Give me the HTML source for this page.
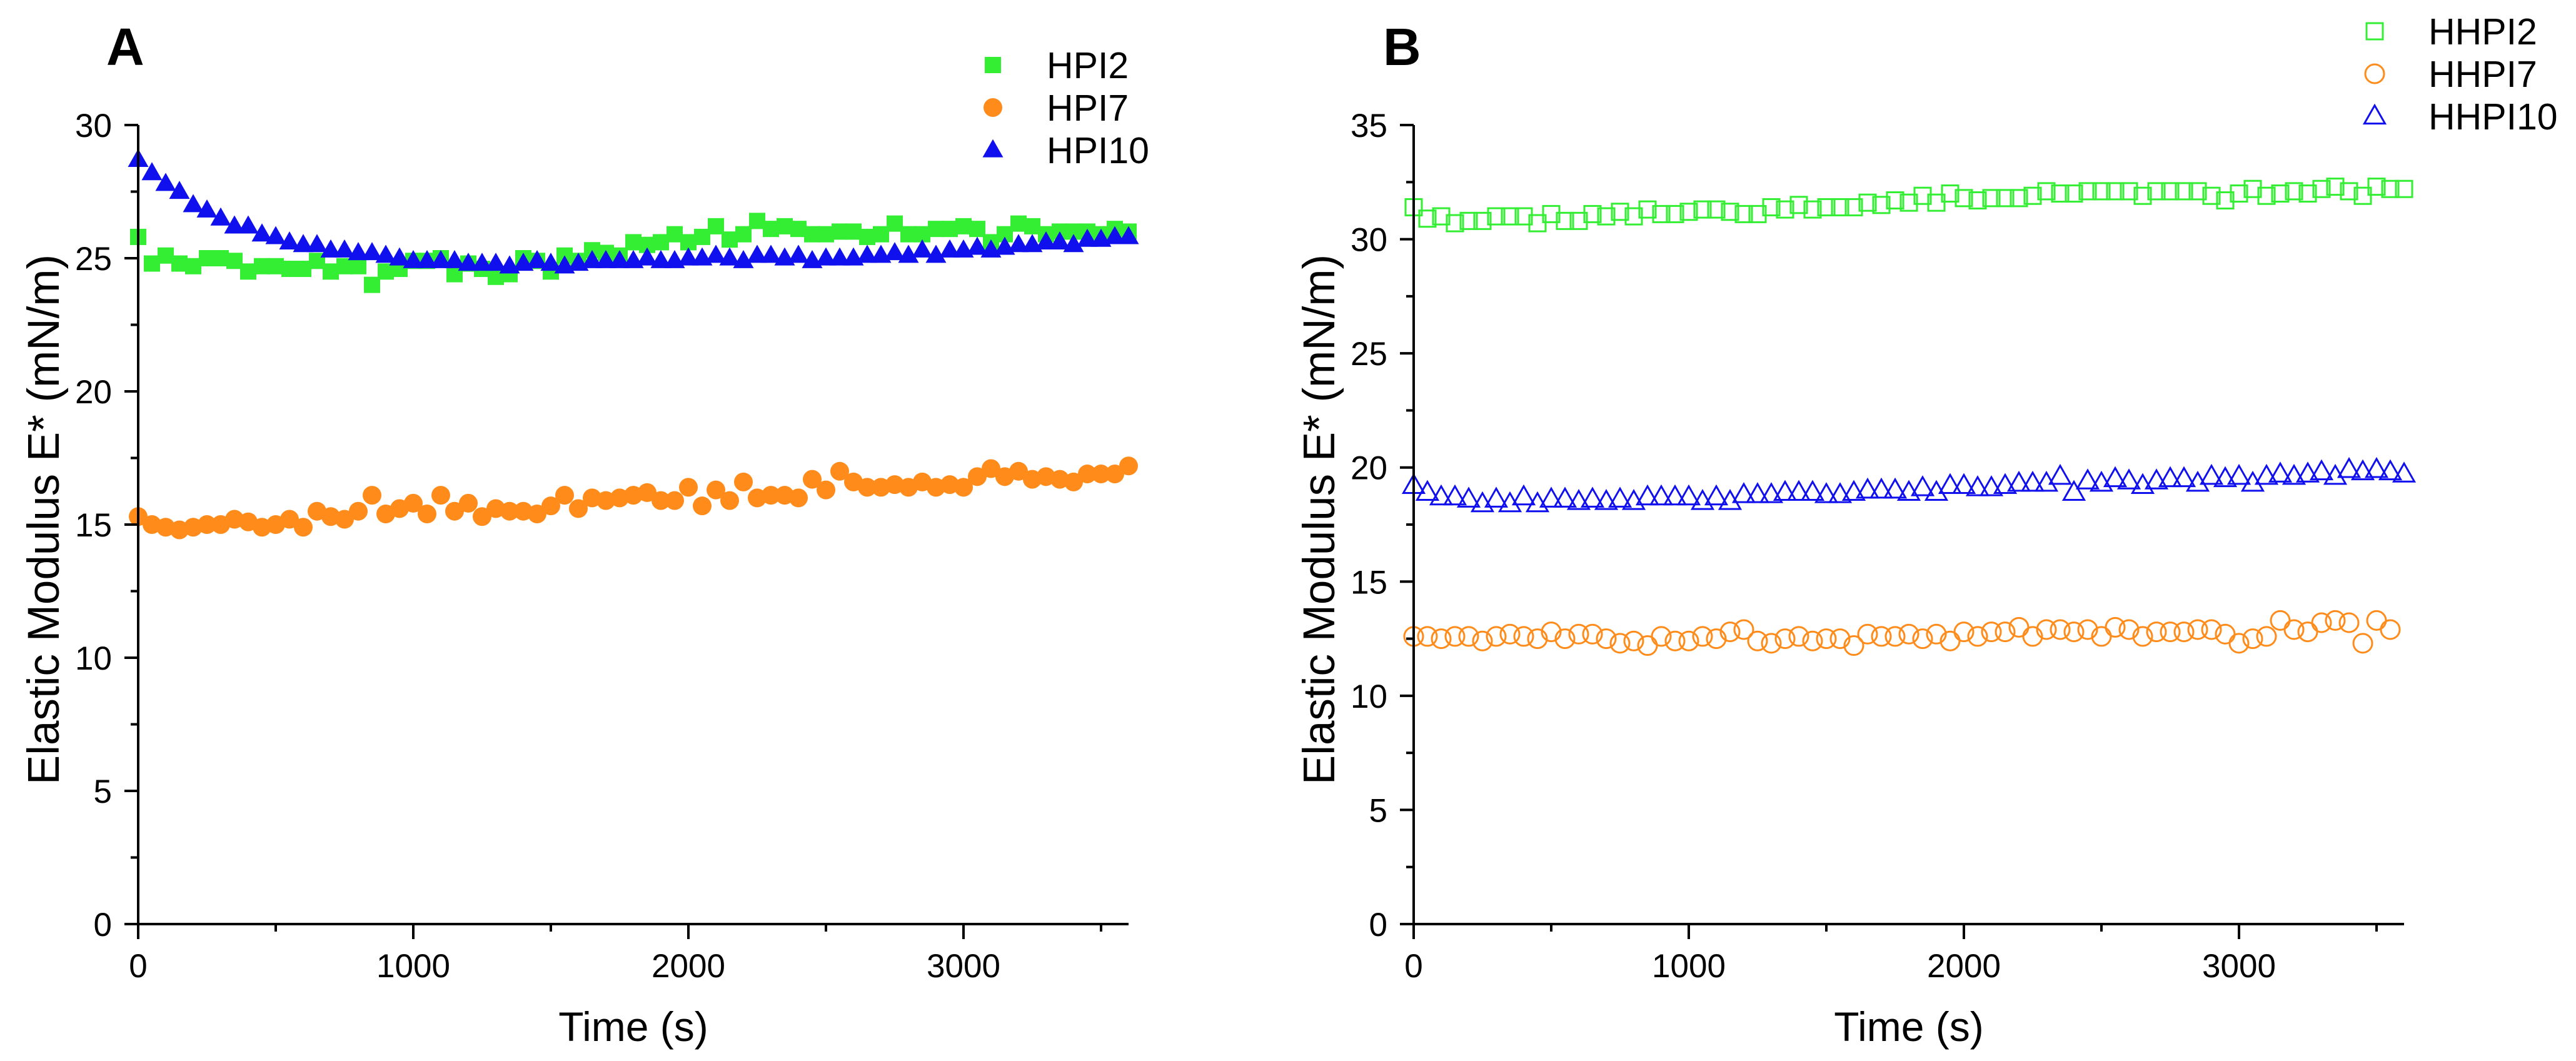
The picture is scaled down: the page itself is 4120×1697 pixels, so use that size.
<!DOCTYPE html>
<html><head><meta charset="utf-8">
<style>
html,body{margin:0;padding:0;background:#fff;}
svg{display:block;font-family:"Liberation Sans",Arial,sans-serif;}
</style></head>
<body>
<svg id="fig" width="4120" height="1697" viewBox="0 0 4120 1697" xmlns="http://www.w3.org/2000/svg"></svg>
<script>
const xTicks = [0, 1000, 2000, 3000];
const yTicksA = [0, 5, 10, 15, 20, 25, 30];
const yTicksB = [0, 5, 10, 15, 20, 25, 30, 35];
const dt = 50;
const hpi2 = [25.8,24.8,25.1,24.8,24.7,25.0,25.0,24.9,24.5,24.7,24.7,24.6,24.6,24.9,24.5,24.7,24.7,24.0,24.5,24.6,24.9,24.9,25.0,24.4,24.8,24.6,24.3,24.4,25.0,24.9,24.5,25.1,24.9,25.3,25.2,25.1,25.6,25.5,25.6,25.9,25.6,25.8,26.2,25.7,25.9,26.4,26.1,26.2,26.1,25.9,25.9,26.0,26.0,25.8,25.9,26.3,25.9,25.9,26.1,26.1,26.2,26.1,25.6,25.9,26.3,26.2,25.9,26.0,26.0,26.0,25.9,26.1,26.0];
const hpi7 = [15.3,15.0,14.9,14.8,14.9,15.0,15.0,15.2,15.1,14.9,15.0,15.2,14.9,15.5,15.3,15.2,15.5,16.1,15.4,15.6,15.8,15.4,16.1,15.5,15.8,15.3,15.6,15.5,15.5,15.4,15.7,16.1,15.6,16.0,15.9,16.0,16.1,16.2,15.9,15.9,16.4,15.7,16.3,15.9,16.6,16.0,16.1,16.1,16.0,16.7,16.3,17.0,16.6,16.4,16.4,16.5,16.4,16.6,16.4,16.5,16.4,16.8,17.1,16.8,17.0,16.7,16.8,16.7,16.6,16.9,16.9,16.9,17.2];
const hpi10 = [28.7,28.2,27.8,27.5,27.0,26.8,26.5,26.2,26.2,25.9,25.8,25.6,25.5,25.5,25.3,25.3,25.2,25.2,25.1,25.0,24.9,24.9,24.9,24.9,24.8,24.8,24.8,24.7,24.8,24.9,24.8,24.7,24.8,24.9,24.9,24.9,24.9,25.0,24.9,24.9,25.0,25.0,25.1,25.0,24.9,25.1,25.1,25.0,25.1,24.9,25.0,25.0,25.0,25.1,25.1,25.2,25.1,25.3,25.1,25.3,25.3,25.4,25.3,25.4,25.5,25.5,25.6,25.6,25.5,25.7,25.7,25.8,25.8];
const hhpi2 = [31.4,30.9,31.0,30.7,30.8,30.8,31.0,31.0,31.0,30.7,31.1,30.8,30.8,31.1,31.0,31.2,31.0,31.3,31.1,31.1,31.2,31.3,31.3,31.2,31.1,31.1,31.4,31.3,31.5,31.3,31.4,31.4,31.4,31.6,31.5,31.7,31.6,31.9,31.6,32.0,31.8,31.7,31.8,31.8,31.8,31.9,32.1,32.0,32.0,32.1,32.1,32.1,32.1,31.9,32.1,32.1,32.1,32.1,31.9,31.7,32.0,32.2,31.9,32.0,32.1,32.0,32.2,32.3,32.1,31.9,32.3,32.2,32.2];
const hhpi7 = [12.6,12.6,12.5,12.6,12.6,12.4,12.6,12.7,12.6,12.5,12.8,12.5,12.7,12.7,12.5,12.3,12.4,12.2,12.6,12.4,12.4,12.6,12.5,12.8,12.9,12.4,12.3,12.5,12.6,12.4,12.5,12.5,12.2,12.7,12.6,12.6,12.7,12.5,12.7,12.4,12.8,12.6,12.8,12.8,13.0,12.6,12.9,12.9,12.8,12.9,12.6,13.0,12.9,12.6,12.8,12.8,12.8,12.9,12.9,12.7,12.3,12.5,12.6,13.3,12.9,12.8,13.2,13.3,13.2,12.3,13.3,12.9];
const hhpi10 = [19.2,18.9,18.7,18.7,18.6,18.4,18.6,18.4,18.7,18.4,18.6,18.6,18.5,18.6,18.5,18.6,18.5,18.7,18.7,18.7,18.7,18.5,18.7,18.5,18.8,18.8,18.8,18.9,18.9,18.9,18.8,18.8,18.9,19.0,19.0,19.0,18.9,19.1,18.9,19.2,19.2,19.1,19.1,19.2,19.3,19.3,19.3,19.6,18.9,19.4,19.3,19.5,19.4,19.2,19.4,19.5,19.5,19.3,19.6,19.5,19.6,19.3,19.6,19.7,19.6,19.7,19.8,19.6,19.9,19.8,19.9,19.8,19.7];

const NS = "http://www.w3.org/2000/svg";
const svg = document.getElementById('fig');
function mk(tag, attrs, parent) {
  const e = document.createElementNS(NS, tag);
  for (const k in attrs) e.setAttribute(k, attrs[k]);
  (parent || svg).appendChild(e);
  return e;
}
const GREEN = '#33ee33', ORANGE = '#ff8c1a', BLUE = '#1010ee';

function marker(g, shape, cx, cy, color, filled) {
  let e;
  const fill = filled ? color : 'none';
  const sw = filled ? 0 : 3;
  if (shape === 'sq') {
    const s = 26;
    e = mk('rect', {x: cx - s/2, y: cy - s/2, width: s, height: s, fill: fill, stroke: color, 'stroke-width': sw}, g);
  } else if (shape === 'ci') {
    e = mk('circle', {cx: cx, cy: cy, r: 15, fill: fill, stroke: color, 'stroke-width': sw}, g);
  } else {
    const h = 29, w = 33;
    e = mk('polygon', {points: `${cx},${cy - h*0.6} ${cx - w/2},${cy + h*0.4} ${cx + w/2},${cy + h*0.4}`, fill: fill, stroke: color, 'stroke-width': sw}, g);
  }
  return e;
}

function panel(opt) {
  const g = mk('g', {});
  
  
  const x0 = opt.x0, x1 = opt.x0 + 1584, yB = 1478, yT = 200;
  const sx = v => x0 + (v / 3600) * (x1 - x0);
  const sy = v => yB - (v / opt.ymax) * (yB - yT);
  const sg = mk('g', {}, g);
  
  
  opt.series.forEach(s => {
    const ser = mk('g', {}, sg);
    
    
    s.data.forEach((v, i) => {
      const t = Math.min(i * dt, 3600);
      const m = marker(ser, s.shape, sx(t), sy(v), s.color, s.filled);
      
      
    });
  });
  const ax = mk('g', {stroke: '#000', 'stroke-width': 4, fill: 'none'}, g);
  
  
  mk('line', {x1: x0 - 12, y1: yB, x2: x1, y2: yB}, ax);
  mk('line', {x1: x0, y1: yB + 24, x2: x0, y2: yT}, ax);
  for (let v = 0; v <= 3600; v += 500) {
    const major = v % 1000 === 0;
    mk('line', {x1: sx(v), y1: yB, x2: sx(v), y2: yB + (major ? 24 : 12)}, ax);
  }
  xTicks.forEach(v => {
    const t = mk('text', {x: sx(v), y: 1563, 'text-anchor': 'middle', 'font-size': 53, fill: '#000', stroke: 'none'}, g);
    t.textContent = v;
    
    
  });
  const yt = opt.yTicks;
  for (let k = 0; k < yt.length; k++) {
    mk('line', {x1: x0, y1: sy(yt[k]), x2: x0 - 22, y2: sy(yt[k])}, ax);
    if (k < yt.length - 1) {
      const m = (yt[k] + yt[k+1]) / 2;
      mk('line', {x1: x0, y1: sy(m), x2: x0 - 12, y2: sy(m)}, ax);
    }
    const t = mk('text', {x: x0 - 42, y: sy(yt[k]) + 19, 'text-anchor': 'end', 'font-size': 53, fill: '#000', stroke: 'none'}, g);
    t.textContent = yt[k];
    
    
  }
  const xt = mk('text', {x: (x0 + x1) / 2, y: 1665, 'text-anchor': 'middle', 'font-size': 66, fill: '#000'}, g);
  xt.textContent = 'Time (s)';
  
  
  const ytt = mk('text', {x: 0, y: 0, 'text-anchor': 'middle', 'font-size': 71, fill: '#000', transform: `translate(${x0 - opt.ytOff},831) rotate(-90)`}, g);
  ytt.textContent = 'Elastic Modulus E* (mN/m)';
  
  
  const pl = mk('text', {x: opt.labelX, y: 104, 'font-size': 84, 'font-weight': 'bold', fill: '#000'}, g);
  pl.textContent = opt.label;
  
  
  const lg = mk('g', {}, g);
  
  
  opt.series.forEach((s, i) => {
    const y = opt.legY + i * 68;
    const e = mk('g', {}, lg);
    
    
    marker(e, s.shape, opt.legX, y, s.color, s.filled);
    const t = mk('text', {x: opt.legX + 86, y: y + 21, 'font-size': 59, fill: '#000'}, e);
    t.textContent = s.label;
  });
}

panel({name: 'panel-a', x0: 221, ymax: 30, yTicks: yTicksA, label: 'A', labelX: 170, ytOff: 127,
  legX: 1588, legY: 104,
  series: [
    {label: 'HPI2', data: hpi2, color: GREEN, shape: 'sq', filled: true},
    {label: 'HPI7', data: hpi7, color: ORANGE, shape: 'ci', filled: true},
    {label: 'HPI10', data: hpi10, color: BLUE, shape: 'tr', filled: true}
  ]});
panel({name: 'panel-b', x0: 2261, ymax: 35, yTicks: yTicksB, label: 'B', labelX: 2212, ytOff: 127,
  legX: 3798, legY: 50,
  series: [
    {label: 'HHPI2', data: hhpi2, color: GREEN, shape: 'sq', filled: false},
    {label: 'HHPI7', data: hhpi7, color: ORANGE, shape: 'ci', filled: false},
    {label: 'HHPI10', data: hhpi10, color: BLUE, shape: 'tr', filled: false}
  ]});
</script>
</body></html>
